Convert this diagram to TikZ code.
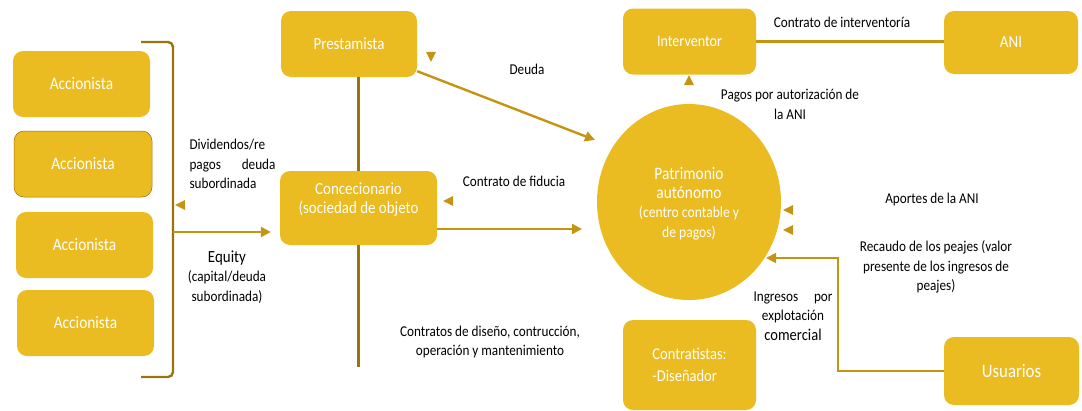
\documentclass[tikz,border=0pt]{standalone}
\usepackage{fontspec}
\setmainfont{Carlito}[FakeStretch=0.88]
\usetikzlibrary{arrows.meta, positioning, shapes.geometric}
\definecolor{boxgold}{RGB}{235, 187, 34}
\definecolor{linegold}{RGB}{196, 148, 18}
\definecolor{railgold}{RGB}{155, 115, 12}
\newcommand{\subtext}{\fontsize{15.5}{19.3}\selectfont}

\begin{document}
\begin{tikzpicture}[x=1pt, y=-1pt, >={Triangle[length=10pt, width=10pt]},
    party/.style={rectangle, rounded corners=10pt, fill=boxgold, text=white, inner sep=0pt, align=center, font=\fontsize{17}{19}\selectfont},
    note/.style={inner sep=0pt, align=center, font=\fontsize{15}{19.5}\selectfont},
    flow/.style={->, linegold, line width=2.4pt},
    rail/.style={railgold, line width=2.4pt},
    tipmark/.style={isosceles triangle, isosceles triangle stretches, fill=linegold, inner sep=0pt, minimum width=10pt, minimum height=10pt}]
    \useasboundingbox (0,0) rectangle (1082,410);
    \node[party, minimum width=137pt, minimum height=66pt, font=\fontsize{17.5}{19}\selectfont] (acc1) at (81.5,84) {Accionista};
    \node[party, minimum width=138pt, minimum height=66pt, font=\fontsize{17.5}{19}\selectfont, draw=railgold, line width=0.5pt] (acc2) at (83,164) {Accionista};
    \node[party, minimum width=137pt, minimum height=66pt, font=\fontsize{17.5}{19}\selectfont] (acc3) at (84.5,245) {Accionista};
    \node[party, minimum width=137pt, minimum height=66pt, font=\fontsize{17.5}{19}\selectfont] (acc4) at (85.5,323) {Accionista};
    \node[party, minimum width=136pt, minimum height=66pt] (prest) at (349,44) {Prestamista};
    \node[party, minimum width=157pt, minimum height=74pt] (conc) at (358.5,208) {Concecionario\\(sociedad de objeto\\\mbox{}};
    \node[party, minimum width=133pt, minimum height=66pt, font=\fontsize{16}{19}\selectfont] (interv) at (689.5,41.5) {Interventor};
    \node[party, minimum width=134pt, minimum height=63pt] (ani) at (1011,42.5) {ANI};
    \node[party, minimum width=133pt, minimum height=90pt, align=left, font=\fontsize{16.5}{22}\selectfont] (contr) at (689.5,365) {Contratistas:\\-Diseñador};
    \node[party, minimum width=135pt, minimum height=68pt, font=\fontsize{19}{21}\selectfont] (usu) at (1011.5,371) {Usuarios};
    \node[ellipse, fill=boxgold, text=white, inner sep=0pt, minimum width=184pt, minimum height=196pt, align=center, font=\fontsize{17.5}{19.3}\selectfont] (pat) at (689,202) {\mbox{}\\[-4pt]Patrimonio\\autónomo\\\subtext (centro contable y\\\subtext de pagos)};
    \node[note] (deuda) at (527,69) {Deuda};
    \node[note] (ctint) at (842,22) {Contrato de interventoría};
    \node[note] (pagos) at (790,104.5) {Pagos por autorización de\\la ANI};
    \node[note] (fiducia) at (514,181) {Contrato de fiducia};
    \node[note] (aportes) at (932,199) {Aportes de la ANI};
    \node[note] (recaudo) at (936,267) {Recaudo de los peajes (valor\\presente de los ingresos de\\peajes)};
    \node[note] (ingresos) at (793,316) {\makebox[79pt][s]{Ingresos por}\\explotación\\{\fontsize{16.5}{19}\selectfont comercial}};
    \node[note] (contratos) at (490,342) {Contratos de diseño, contrucción,\\operación y mantenimiento};
    \node[note, align=left, text width=86pt] (dividendos) at (232.5,164) {Dividendos/re\\pagos\hfill deuda\\subordinada};
    \node[note] (equity) at (227,277) {{\fontsize{17}{19}\selectfont Equity}\\(capital/deuda\\subordinada)};
    \coordinate (brtop) at (141,42);
    \coordinate (brbot) at (141,377);
    \coordinate (eqstart) at (173,232);
    \coordinate (railend) at (358.5,367);
    \coordinate (deudatip) at (595,140);
    \coordinate (fiduciatip) at (582,229);
    \coordinate (bend) at (838,258);
    \coordinate (recaudotip) at (766,258);
    \draw[rail, rounded corners=5pt] (brtop) -| (eqstart) |- (brbot);
    \draw[flow, shorten >=9pt] (eqstart) -- (eqstart -| conc.west);
    \draw[rail] (conc.north |- prest.south) -- (conc.north);
    \draw[rail] (conc.south) -- (railend);
    \draw[flow] ([yshift=6pt]prest.south east) -- (deudatip);
    \draw[flow] ([yshift=-21pt]conc.east) -- (fiduciatip);
    \draw[linegold, line width=2.4pt] (interv.east) -- (interv.east -| ani.west);
    \draw[flow, line width=1.8pt] (usu.west) -| (bend) -- (recaudotip);
    \node[tipmark, shape border rotate=-80] (t1) at (431,55) {};
    \node[tipmark, shape border rotate=90] (t2) at (689,82) {};
    \node[tipmark, shape border rotate=180] (t3) at (182,205) {};
    \node[tipmark, shape border rotate=180] (t4) at (450,201) {};
    \node[tipmark, shape border rotate=180] (t5) at (790,210) {};
    \node[tipmark, shape border rotate=180] (t6) at (790,230) {};
\end{tikzpicture}
\end{document}
